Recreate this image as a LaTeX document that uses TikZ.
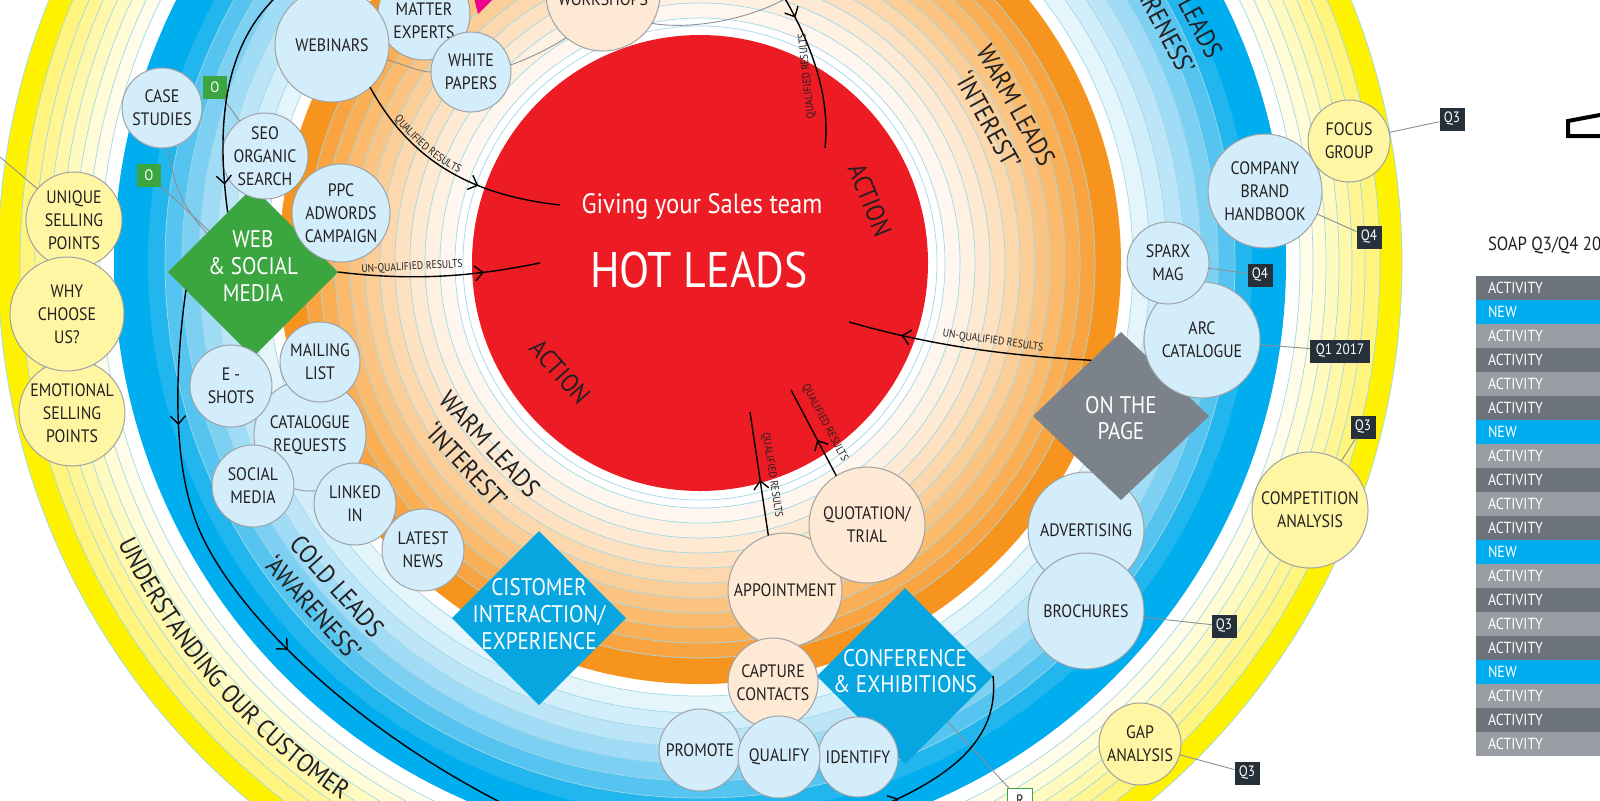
\documentclass[tikz,border=0pt]{standalone}
\usepackage{fontspec}
\setmainfont{PT Sans}[FakeStretch=0.88]
\usetikzlibrary{shapes.geometric,decorations.markings,decorations.text,arrows.meta}
\definecolor{hotred}{HTML}{ED1C24}
\definecolor{Y7}{HTML}{FFF200}\definecolor{Y6}{HTML}{FFF47E}\definecolor{Y5}{HTML}{FFF693}
\definecolor{Y4}{HTML}{FFF8AA}\definecolor{Y3}{HTML}{FFFAC0}\definecolor{Y2}{HTML}{FFFCD6}\definecolor{Y1}{HTML}{FFFDE9}
\definecolor{B8}{HTML}{00AEEF}\definecolor{B7}{HTML}{22B6EE}\definecolor{B6}{HTML}{55C4F0}\definecolor{B5}{HTML}{7ED0F3}
\definecolor{B4}{HTML}{A0DCF6}\definecolor{B3}{HTML}{BCE6F8}\definecolor{B2}{HTML}{D2EEFA}\definecolor{B1}{HTML}{E5F5FC}
\definecolor{O11}{HTML}{F7941D}\definecolor{O10}{HTML}{F9A440}\definecolor{O9}{HTML}{FAAF55}\definecolor{O8}{HTML}{FBBA6C}
\definecolor{O7}{HTML}{FBC482}\definecolor{O6}{HTML}{FCCE97}\definecolor{O5}{HTML}{FDD8AC}\definecolor{O4}{HTML}{FDE1C0}
\definecolor{O3}{HTML}{FEEAD2}\definecolor{O2}{HTML}{FEF1E2}\definecolor{O1}{HTML}{FFF7EF}
\definecolor{cyanl}{HTML}{9FD8E8}
\definecolor{cblue}{HTML}{D4EDFA}
\definecolor{cpeach}{HTML}{FDE9D4}
\definecolor{cyellow}{HTML}{FFF6A3}
\definecolor{cstroke}{HTML}{9EA2A6}
\definecolor{txt}{HTML}{231F20}
\definecolor{tagdark}{HTML}{25303B}
\definecolor{dgreen}{HTML}{3BA53F}
\definecolor{dblue}{HTML}{08A6E1}
\definecolor{dgray}{HTML}{7C8289}
\definecolor{lgray}{HTML}{8C9094}
\definecolor{tdark}{HTML}{6D737A}
\definecolor{tlight}{HTML}{989DA3}
\definecolor{tblue}{HTML}{00AEEF}
\definecolor{pinkm}{HTML}{EC008C}
\newcommand\fsz[2]{\fontsize{#1}{#2}\selectfont}
\newcommand\cnode[5]{\node[#1, minimum size=#2pt] (#3) at (#4) {};\node[lbl] (#3-t) at (#3) {#5};}
\tikzset{
 every node/.style={inner sep=0pt, outer sep=0pt},
 cshape/.style={circle, draw=cstroke, line width=0.5pt, inner sep=0pt},
 bc/.style={cshape, fill=cblue},
 pc/.style={cshape, fill=cpeach},
 yc/.style={cshape, fill=cyellow},
 lbl/.style={align=center, font=\fsz{9}{11.5}, text=txt},
 dia/.style={diamond, inner sep=0pt},
 dtext/.style={align=center, font=\fsz{12}{13.4}, text=white},
 ringlbl/.style={align=center, font=\fsz{13}{16}, text=txt},
 small/.style={font=\fsz{5.5}{6}, text=txt},
 tagd/.style={fill=tagdark, text=white, font=\fsz{7.5}{8}, minimum width=12.5pt, minimum height=11.5pt},
 tagg/.style={fill=dgreen, text=white, font=\fsz{7.5}{8}, minimum width=12pt, minimum height=11.5pt},
 tagr/.style={fill=white, draw=dgreen, line width=0.5pt, text=txt, font=\fsz{7.5}{8}, minimum width=12.5pt, minimum height=11.5pt},
 gline/.style={draw=lgray, line width=0.45pt},
 arr/.style={draw=black, line width=0.7pt},
 cline/.style={draw=cyanl, line width=0.35pt},
 marr/.style={postaction={decorate, decoration={markings, mark=at position #1 with {\arrow{Straight Barb[length=4pt,width=7.5pt,line width=0.7pt]}}}}},
 tbl/.style={font=\fsz{8}{9}, text=white},
}
\begin{document}
\begin{tikzpicture}[x=0.5pt,y=-0.5pt]
\useasboundingbox (0,0) rectangle (1600,800);
\clip (0,0) rectangle (1600,800);
\fill[white] (0,0) rectangle (1600,800);
\coordinate (C) at (700,263);
% rings
\foreach \r/\c in {702/Y7,680/Y6,665/Y5,652/Y4,639/Y3,626/Y2,613/Y1,600/white,586/B8,552/B7,535/B6,518/B5,501/B4,484/B3,467/B2,450/B1,433/white,421/O11,395/O10,380/O9,365/O8,350/O7,335/O6,320/O5,305/O4,290/O3,275/O2,260/O1,245/white}
  \fill[\c] (C) circle (\r);
\foreach \r in {702,680,665,652,639,626,613,600,535,518,501,484,467,450,433,395,380,365,350,335,320,305,290,275,260,245,237}
  \draw[cline] (C) circle (\r);
\fill[hotred] (C) circle (228);
% magenta piece and icon
\fill[pinkm] (474,-2) -- (494,-2) -- (478,14) -- cycle;
\draw[line width=2pt, line join=miter] (1605,114) -- (1568,121) -- (1568,136) -- (1605,136);
\coordinate (gtop) at (790,-4);
% diamonds (under some circles)
\node[dia, fill=dgreen, minimum width=85pt, minimum height=85pt] (web) at (253,272) {};
\node[dtext] (web-t) at (253,266) {WEB\\\& SOCIAL\\MEDIA};
\node[dia, fill=dblue, minimum width=87pt, minimum height=87pt] (cist) at (539,618) {};
\node[dtext] (cist-t) at (539,614) {CISTOMER\\INTERACTION/\\EXPERIENCE};
\node[dia, fill=dblue, minimum width=88pt, minimum height=88pt] (conf) at (905,676) {};
\node[dtext] (conf-t) at (905,671) {CONFERENCE\\\& EXHIBITIONS};
% circles top-left
\node[bc, minimum size=46pt] (matter) at (424,14) {};
\node[lbl] (matter-t) at (424,21) {MATTER\\EXPERTS};
\cnode{bc}{40}{whitepapers}{471,72}{WHITE\\PAPERS}
\cnode{bc}{57}{webinars}{332,45}{WEBINARS}
\node[pc, minimum size=57pt] (workshops) at (603,-6) {};
\node[lbl] (workshops-t) at (603,-1) {WORKSHOPS};
\draw[gline] (webinars.-15) .. controls (405,65) and (420,72) .. (whitepapers.180);
\draw[gline] (whitepapers.10) .. controls (530,58) and (550,48) .. (workshops.230);
\draw[gline] (workshops.-31) .. controls (690,30) and (750,20) .. (gtop);
\cnode{bc}{40}{casestudies}{162,108}{CASE\\STUDIES}
\cnode{bc}{43}{seo}{265,156}{SEO\\ORGANIC\\SEARCH}
\cnode{bc}{49}{ppc}{341,213}{PPC\\ADWORDS\\CAMPAIGN}
\cnode{bc}{56}{catalogue}{310,435}{CATALOGUE\\REQUESTS}
\cnode{bc}{40}{mailing}{320,362}{MAILING\\LIST}
\cnode{bc}{41}{eshots}{231,386}{E -\\SHOTS}
\cnode{bc}{41}{social}{253,486}{SOCIAL\\MEDIA}
\cnode{bc}{41}{linked}{355,504}{LINKED\\IN}
\cnode{bc}{41}{latest}{423,550}{LATEST\\NEWS}
% bottom circles
\cnode{pc}{57}{appointment}{785,590}{APPOINTMENT}
\cnode{pc}{58}{quotation}{867,525}{QUOTATION/\\TRIAL}
\cnode{pc}{45}{capture}{773,683}{CAPTURE\\CONTACTS}
\cnode{bc}{41}{promote}{700,750}{PROMOTE}
\cnode{bc}{40}{identify}{858,757}{IDENTIFY}
\cnode{bc}{41}{qualify}{779,757}{QUALIFY}
% right side
\cnode{bc}{58}{advertising}{1086,530}{ADVERTISING}
\cnode{bc}{58}{brochures}{1086,611}{BROCHURES}
\node[dia, fill=dgray, minimum width=88pt, minimum height=84pt] (page) at (1121,416) {};
\node[dtext] (page-t) at (1121,418) {ON THE\\PAGE};
\cnode{bc}{58}{arc}{1202,340}{ARC\\CATALOGUE}
\cnode{bc}{41}{sparx}{1168,263}{SPARX\\MAG}
\cnode{bc}{57}{cbh}{1265,191}{COMPANY\\BRAND\\HANDBOOK}
\cnode{yc}{41}{focus}{1349,141}{FOCUS\\GROUP}
\cnode{yc}{58}{competition}{1310,510}{COMPETITION\\ANALYSIS}
\cnode{yc}{41}{gap}{1140,744}{GAP\\ANALYSIS}
\cnode{yc}{48}{unique}{74,220}{UNIQUE\\SELLING\\POINTS}
\cnode{yc}{53}{emotional}{72,413}{EMOTIONAL\\SELLING\\POINTS}
\cnode{yc}{57}{why}{67,314}{WHY\\CHOOSE\\US?}
% tags
\node[tagd] (tq1) at (1452,119) {Q3};
\node[tagd] (tq2) at (1369,237) {Q4};
\node[tagd] (tq3) at (1260,275) {Q4};
\node[tagd, minimum width=30pt] (tq4) at (1340,351) {Q1 2017};
\node[tagd] (tq5) at (1363,427) {Q3};
\node[tagd] (tq6) at (1224,626) {Q3};
\node[tagd] (tq7) at (1247,773) {Q3};
\node[tagr] (tr) at (1020,800) {R};
\node[tagg] (tg1) at (215,87) {O};
\node[tagg] (tg2) at (149,175) {O};
\draw[gline] (focus) -- (tq1);
\draw[gline] (cbh) -- (tq2);
\draw[gline] (sparx) -- (tq3);
\draw[gline] (arc) -- (tq4);
\draw[gline] (competition) -- (tq5);
\draw[gline] (brochures) -- (tq6);
\draw[gline] (gap) -- (tq7);
\draw[gline] (conf) -- (tr);
\draw[gline] (tg1) -- (seo);
\draw[gline] (tg2) -- (web);
\draw[gline] (casestudies.-80) .. controls (172,190) and (190,215) .. (web.140);
\coordinate (L1) at (0,157);
\draw[gline] (L1) -- (unique);
% arrows
\coordinate (q1end) at (560,205);
\coordinate (uq1end) at (540,263);
\coordinate (uq2end) at (849,322);
\coordinate (qend) at (791,390);
\coordinate (aend) at (750,412);
\coordinate (wtop) at (783,-5);
\coordinate (wend) at (825,148);
\coordinate (ltop) at (278,-5);
\coordinate (lm) at (193,513);
\coordinate (lbot) at (520,812);
\coordinate (lbr) at (860,815);
\draw[arr, marr=0.64] (webinars.-48) .. controls (410,160) and (470,195) .. (q1end);
\path[decorate, decoration={text along path, text={|\fsz{5.5}{6}\color{txt}|QUALIFIED RESULTS}, text align={left, left indent=20pt}, raise=1.5pt}] (webinars.-48) .. controls (410,160) and (470,195) .. (q1end);
\draw[arr, marr=0.72] (web.east) .. controls (420,282) and (480,275) .. (uq1end);
\node[small, rotate=3] (uq1lab) at (412,267) {UN-QUALIFIED RESULTS};
\draw[arr, marr=0.78] (page.118) .. controls (1000,355) and (930,345) .. (uq2end);
\node[small, rotate=-8] (uq2lab) at (993,341) {UN-QUALIFIED RESULTS};
\draw[arr, marr=0.42] (quotation.122) -- (qend);
\node[small, rotate=-62] (qlab) at (825,423) {QUALIFIED RESULTS};
\draw[arr, marr=0.45] (appointment.107) -- (aend);
\node[small, rotate=-81] (alab) at (772,475) {QUALIFIED RESULTS};
\draw[arr, marr=0.16] (wtop) .. controls (815,50) and (830,100) .. (wend);
\node[small, rotate=96] (wlab) at (807,76) {QUALIFIED RESULTS};
\draw[arr, marr=0.88] (ltop) .. controls (230,40) and (214,110) .. (web.113);
\draw[arr, postaction={decorate, decoration={markings,
  mark=at position 0.2 with {\arrow{Straight Barb[length=4pt,width=7.5pt,line width=0.7pt]}},
  mark=at position 0.58 with {\arrow{Straight Barb[length=4pt,width=7.5pt,line width=0.7pt]}}}}]
  (web.195) .. controls (176,360) and (172,450) .. (lm) .. controls (220,600) and (350,730) .. (lbot);
\draw[arr, marr=0.2] (lbr) .. controls (950,780) and (1000,740) .. (conf.east);
% centre texts
\node[font=\fsz{14}{16}, text=white] (giving) at (702,206) {Giving your Sales team};
\node[font=\fsz{25}{28}, text=white] (hot) at (699,270) {HOT LEADS};
\node[ringlbl, rotate=-68] (act1) at (870,200) {ACTION};
\node[ringlbl, rotate=-48] (act2) at (560,372) {ACTION};
\node[ringlbl, rotate=-61] (warm1) at (1002,113) {WARM LEADS\\‘INTEREST’};
\node[ringlbl, rotate=-47] (warm2) at (478,455) {WARM LEADS\\‘INTEREST’};
\node[ringlbl, rotate=-48] (cold1) at (325,597) {COLD LEADS\\‘AWARENESS’};
\node[ringlbl, rotate=-62] (cold2) at (1172,8) {COLD LEADS\\‘AWARENESS’};
\path[decorate, decoration={text along path, text={|\fsz{13}{15}\color{txt}|UNDERSTANDING OUR CUSTOMER}, text align=center}] (C) ++(160:646) arc[start angle=160, end angle=118, radius=646];
% table
\node[anchor=west, font=\fsz{9.5}{11}, text=txt] (soap) at (1488,245) {SOAP Q3/Q4 20};
\foreach \i/\t/\c in {0/ACTIVITY/tdark,1/NEW/tblue,2/ACTIVITY/tlight,3/ACTIVITY/tdark,4/ACTIVITY/tlight,5/ACTIVITY/tdark,6/NEW/tblue,7/ACTIVITY/tlight,8/ACTIVITY/tdark,9/ACTIVITY/tlight,10/ACTIVITY/tdark,11/NEW/tblue,12/ACTIVITY/tlight,13/ACTIVITY/tdark,14/ACTIVITY/tlight,15/ACTIVITY/tdark,16/NEW/tblue,17/ACTIVITY/tlight,18/ACTIVITY/tdark,19/ACTIVITY/tlight}{
  \fill[\c] (1476,276+24*\i) rectangle (1605,300+24*\i);
  \node[tbl, anchor=west] (row\i) at (1488,288+24*\i) {\t};
}
\end{tikzpicture}
\end{document}
